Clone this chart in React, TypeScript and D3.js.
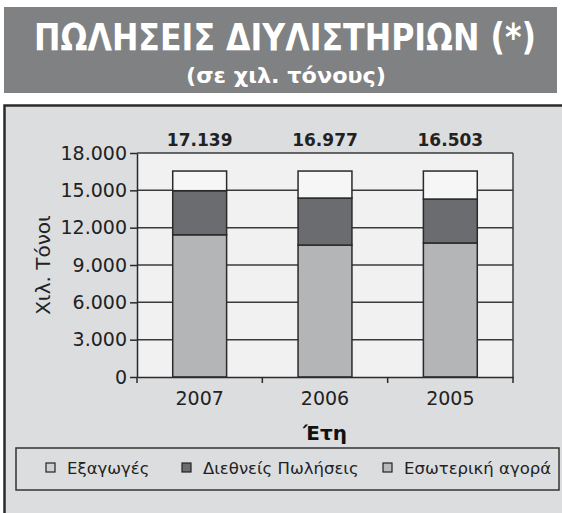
import React, { useEffect, useRef } from "react";
import * as d3 from "d3";

// values (thousand tonnes)
const years = ["2007", "2006", "2005"];
const domesticSales = [11430, 10600, 10770];
const internationalSales = [3540, 3780, 3530];
const exportSales = [1580, 2170, 2250];
const totalLabels = ["17.139", "16.977", "16.503"];
const yTicks = [0, 3000, 6000, 9000, 12000, 15000, 18000];
const seriesKeys = ["exports", "international", "domestic"];
const seriesNames = ["Εξαγωγές", "Διεθνείς Πωλήσεις", "Εσωτερική αγορά"];

const title = "ΠΩΛΗΣΕΙΣ ΔΙΥΛΙΣΤΗΡΙΩΝ (*)";
const subtitle = "(σε χιλ. τόνους)";
const yTitle = "Χιλ. Τόνοι";
const xTitle = "Έτη";

const fills: Record<string, string> = {
  domestic: "#b4b5b7",
  international: "#6b6c6f",
  exports: "#f6f6f6",
};
const legendFills: Record<string, string> = {
  domestic: "#b8b9bb",
  international: "#6b6c6f",
  exports: "#cfd0d2",
};

const FONT = "'DejaVu Sans', sans-serif";

const App = () => {
  const ref = useRef<SVGSVGElement | null>(null);

  useEffect(() => {
    const width = 562,
      height = 513;
    const plot = { left: 137, right: 513, top: 153, bottom: 377 };

    const svg = d3.select(ref.current);
    svg.selectAll("*").remove();

    // title banner
    svg
      .append("rect")
      .attr("x", 4)
      .attr("y", 7)
      .attr("width", 553)
      .attr("height", 86)
      .attr("fill", "#808183");
    svg
      .append("text")
      .attr("transform", "translate(285,50) scale(1,1.3)")
      .attr("text-anchor", "middle")
      .attr("font-family", FONT)
      .attr("font-weight", "bold")
      .attr("font-size", 28)
      .attr("textLength", 502)
      .attr("lengthAdjust", "spacingAndGlyphs")
      .attr("fill", "#ffffff")
      .text(title);
    svg
      .append("text")
      .attr("x", 286)
      .attr("y", 83)
      .attr("text-anchor", "middle")
      .attr("font-family", FONT)
      .attr("font-weight", "bold")
      .attr("font-size", 21)
      .attr("textLength", 200)
      .attr("lengthAdjust", "spacingAndGlyphs")
      .attr("fill", "#ffffff")
      .text(subtitle);

    // chart frame (runs off the right and bottom edge like the scan)
    svg
      .append("rect")
      .attr("x", 4.5)
      .attr("y", 105.5)
      .attr("width", width + 20)
      .attr("height", height)
      .attr("fill", "#dcdddf")
      .attr("stroke", "#2b2b2b")
      .attr("stroke-width", 2.5);

    const x = d3
      .scaleBand()
      .domain(years)
      .range([plot.left, plot.right])
      .paddingInner(0.57)
      .paddingOuter(0.285);

    const y = d3
      .scaleLinear()
      .domain([0, 18000])
      .range([plot.bottom, plot.top]);

    const fmt = d3.formatLocale({
      decimal: ",",
      thousands: ".",
      grouping: [3],
      currency: ["", "€"],
    }).format(",");

    // plot background
    svg
      .append("rect")
      .attr("x", plot.left)
      .attr("y", plot.top)
      .attr("width", plot.right - plot.left)
      .attr("height", plot.bottom - plot.top)
      .attr("fill", "#f1f1f1");

    // gridlines
    svg
      .append("g")
      .selectAll("line")
      .data(yTicks.filter((d) => d > 0))
      .enter()
      .append("line")
      .attr("x1", plot.left)
      .attr("x2", plot.right)
      .attr("y1", (d) => y(d))
      .attr("y2", (d) => y(d))
      .attr("stroke", "#3a3a3a")
      .attr("stroke-width", 1.5);

    // right border of plot area
    svg
      .append("line")
      .attr("x1", plot.right)
      .attr("x2", plot.right)
      .attr("y1", plot.top)
      .attr("y2", plot.bottom)
      .attr("stroke", "#3a3a3a")
      .attr("stroke-width", 1.5);

    // stacked bars
    const rows = years.map((yr, i) => ({
      year: yr,
      domestic: domesticSales[i],
      international: internationalSales[i],
      exports: exportSales[i],
    }));
    const stacked = d3
      .stack<any>()
      .keys(["domestic", "international", "exports"])(rows);

    svg
      .append("g")
      .selectAll("g")
      .data(stacked)
      .enter()
      .append("g")
      .attr("fill", (s) => fills[s.key])
      .selectAll("rect")
      .data((s) => s)
      .enter()
      .append("rect")
      .attr("x", (d: any) => x(d.data.year)!)
      .attr("width", x.bandwidth())
      .attr("y", (d) => y(d[1]))
      .attr("height", (d) => y(d[0]) - y(d[1]))
      .attr("stroke", "#2a2a2a")
      .attr("stroke-width", 1.5);

    // total labels above the plot
    svg
      .append("g")
      .selectAll("text")
      .data(years)
      .enter()
      .append("text")
      .attr("x", (d) => x(d)! + x.bandwidth() / 2)
      .attr("y", 146)
      .attr("text-anchor", "middle")
      .attr("font-family", FONT)
      .attr("font-weight", "bold")
      .attr("font-size", 17)
      .attr("fill", "#222")
      .text((d, i) => totalLabels[i]);

    // y axis
    const yAxis = svg
      .append("g")
      .attr("transform", `translate(${plot.left},0)`)
      .call(
        d3
          .axisLeft(y)
          .tickValues(yTicks)
          .tickFormat((d) => fmt(d as number))
          .tickSize(7)
          .tickSizeOuter(0)
          .tickPadding(3)
      );
    yAxis.select(".domain").attr("stroke", "#2a2a2a").attr("stroke-width", 1.5);
    yAxis.selectAll(".tick line").attr("stroke", "#2a2a2a").attr("stroke-width", 1.5);
    yAxis
      .selectAll(".tick text")
      .attr("font-family", FONT)
      .attr("font-size", 19)
      .attr("fill", "#222");

    // x axis
    const xAxis = svg
      .append("g")
      .attr("transform", `translate(0,${plot.bottom})`)
      .call(d3.axisBottom(x).tickSize(0).tickSizeOuter(0).tickPadding(15));
    xAxis.select(".domain").attr("stroke", "#2a2a2a").attr("stroke-width", 1.5);
    xAxis
      .selectAll(".tick text")
      .attr("font-family", FONT)
      .attr("font-size", 19)
      .attr("fill", "#222");

    // category separators below the axis
    const step = x.step();
    svg
      .append("g")
      .selectAll("line")
      .data(d3.range(years.length + 1))
      .enter()
      .append("line")
      .attr("x1", (i) => plot.left + i * step)
      .attr("x2", (i) => plot.left + i * step)
      .attr("y1", plot.bottom)
      .attr("y2", plot.bottom + 6)
      .attr("stroke", "#2a2a2a")
      .attr("stroke-width", 1.5);

    // axis titles
    svg
      .append("text")
      .attr("transform", "translate(50,265) rotate(-90)")
      .attr("text-anchor", "middle")
      .attr("font-family", FONT)
      .attr("font-size", 20)
      .attr("fill", "#222")
      .text(yTitle);
    svg
      .append("text")
      .attr("x", 325)
      .attr("y", 440)
      .attr("text-anchor", "middle")
      .attr("font-family", FONT)
      .attr("font-weight", "bold")
      .attr("font-size", 20)
      .attr("fill", "#111")
      .text(xTitle);

    // legend
    svg
      .append("rect")
      .attr("x", 16)
      .attr("y", 448)
      .attr("width", 543)
      .attr("height", 42)
      .attr("fill", "none")
      .attr("stroke", "#333")
      .attr("stroke-width", 1.5);

    const legendX = [46, 182, 383];
    const items = svg
      .append("g")
      .selectAll("g")
      .data(seriesKeys)
      .enter()
      .append("g")
      .attr("transform", (d, i) => `translate(${legendX[i]},463)`);
    items
      .append("rect")
      .attr("width", 9)
      .attr("height", 9)
      .attr("fill", (d) => legendFills[d])
      .attr("stroke", "#222")
      .attr("stroke-width", 1.2);
    items
      .append("text")
      .attr("x", 21)
      .attr("y", 11)
      .attr("font-family", FONT)
      .attr("font-size", 16.5)
      .attr("fill", "#222")
      .text((d, i) => seriesNames[i]);
  }, []);

  return (
    <div style={{ position: "absolute", left: 0, top: 0 }}>
      <svg ref={ref} width={562} height={513} style={{ display: "block", background: "#fff" }} />
    </div>
  );
};

export default App;
